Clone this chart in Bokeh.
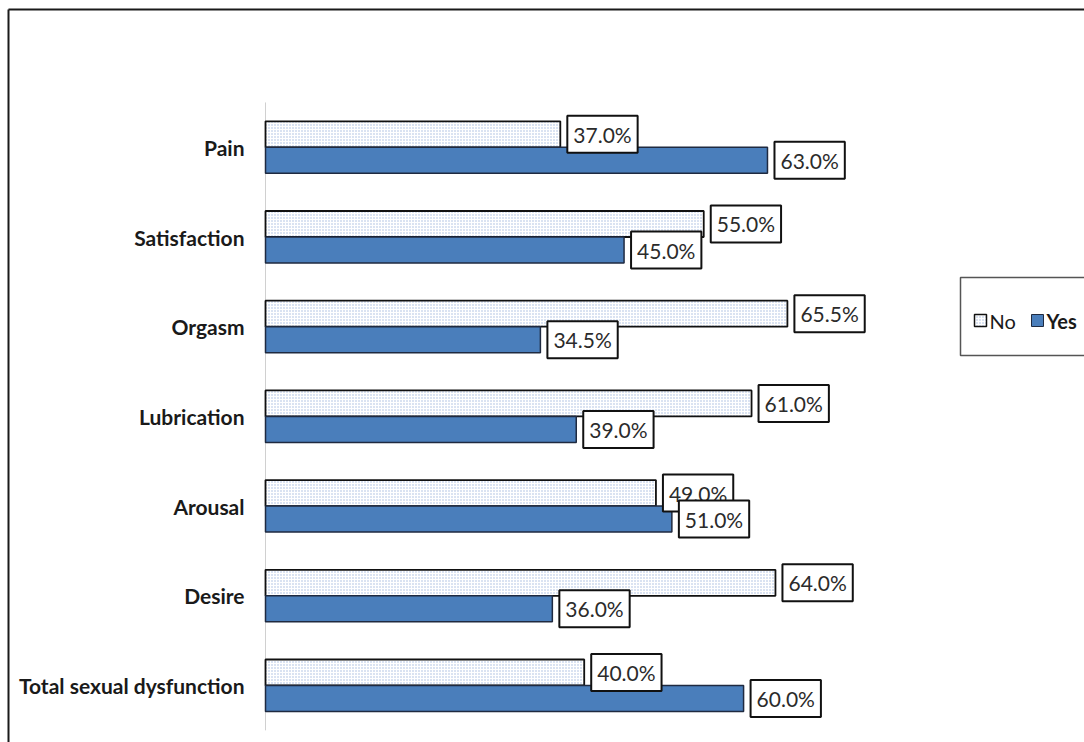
from bokeh.plotting import figure
from bokeh.models import ColumnDataSource, Label, Range1d
from bokeh.core.properties import value
from bokeh.embed import file_html
from bokeh.resources import INLINE

categories = ["Pain", "Satisfaction", "Orgasm", "Lubrication", "Arousal", "Desire", "Total sexual dysfunction"]
no_vals = [37.0, 55.0, 65.5, 61.0, 49.0, 64.0, 40.0]
yes_vals = [63.0, 45.0, 34.5, 39.0, 51.0, 36.0, 60.0]
series_names = ["No", "Yes"]

W, H = 1084, 742
X0_PX = 265.0        # pixel of 0 %
PX_PER_X = 7.968     # pixels per 1 %
Y0_PX = 685.0        # pixel of bottom category centre
PX_PER_Y = 89.7      # pixels per category band

def dx(px):
    return (px - X0_PX) / PX_PER_X

def dy(py):
    return (Y0_PX - py) / PX_PER_Y

n = len(categories)
ypos = [n - 1 - i for i in range(n)]
off = 0.145
bh = 0.29

FONT = "Lato"
BLUE = "#4a7ebb"
HATCH = "#a3b8dd"

p = figure(width=W, height=H, output_backend="svg", toolbar_location=None,
           x_range=Range1d(dx(0), dx(W)), y_range=Range1d(dy(H), dy(0)),
           min_border=0, x_axis_location=None, y_axis_location=None)
p.grid.visible = False
p.outline_line_color = None
p.background_fill_color = "white"
p.border_fill_color = "white"

# outer chart border
p.segment(x0=[dx(8), dx(8)], y0=[dy(9), dy(9)], x1=[dx(8), dx(W + 20)], y1=[dy(H + 20), dy(9)],
          line_color="#1a1a1a", line_width=2)

# category axis line
p.segment(x0=[0], x1=[0], y0=[-0.5], y1=[n - 0.5], line_color="#d0d0d0", line_width=1)

src = ColumnDataSource(dict(
    cat=categories,
    y=ypos,
    y_no=[y + off for y in ypos],
    y_yes=[y - off for y in ypos],
    no=no_vals,
    yes=yes_vals,
))

p.hbar(y="y_no", left=0, right="no", height=bh, source=src,
       fill_color="white", hatch_pattern="dot", hatch_color=HATCH, hatch_scale=3, hatch_weight=1.2,
       line_color="#111111", line_width=1.8)
p.hbar(y="y_yes", left=0, right="yes", height=bh, source=src,
       fill_color=BLUE, line_color="#1f2a40", line_width=1.5)

p.text(x=0, y="y", text="cat", source=src, x_offset=-21, text_align="right", text_baseline="middle",
       text_font=value(FONT), text_font_style="bold", text_font_size="21px", text_color="#1a1a1a")

for ycol, vcol in [("y_no", "no"), ("y_yes", "yes")]:
    for xv, yv in zip(src.data[vcol], src.data[ycol]):
        p.add_layout(Label(x=xv, y=yv, text=f"{xv:.1f}%", x_offset=7,
                           text_align="left", text_baseline="middle",
                           text_font=FONT, text_font_size="21px", text_color="#2b2b2b",
                           background_fill_color="white", border_line_color="#111111",
                           border_line_width=2, padding=6))

# legend (drawn by hand)
p.quad(left=[dx(960)], right=[dx(W + 20)], top=[dy(277)], bottom=[dy(355)],
       fill_color=None, line_color="#555555", line_width=1.5)
p.quad(left=[dx(974)], right=[dx(986)], top=[dy(314)], bottom=[dy(326)],
       fill_color="white", hatch_pattern="dot", hatch_color=HATCH, hatch_scale=3,
       line_color="#111111", line_width=1.5)
p.quad(left=[dx(1031)], right=[dx(1043)], top=[dy(314)], bottom=[dy(326)],
       fill_color=BLUE, line_color="#1f2a40", line_width=1)
p.text(x=[dx(989)], y=[dy(320)], text=[series_names[0]], text_align="left", text_baseline="middle",
       text_font=value(FONT), text_font_size="20px", text_color="#1a1a1a")
p.text(x=[dx(1046)], y=[dy(320)], text=[series_names[1]], text_align="left", text_baseline="middle",
       text_font=value(FONT), text_font_style="bold", text_font_size="20px", text_color="#1a1a1a")

open("out.html", "w").write(file_html(p, INLINE))
